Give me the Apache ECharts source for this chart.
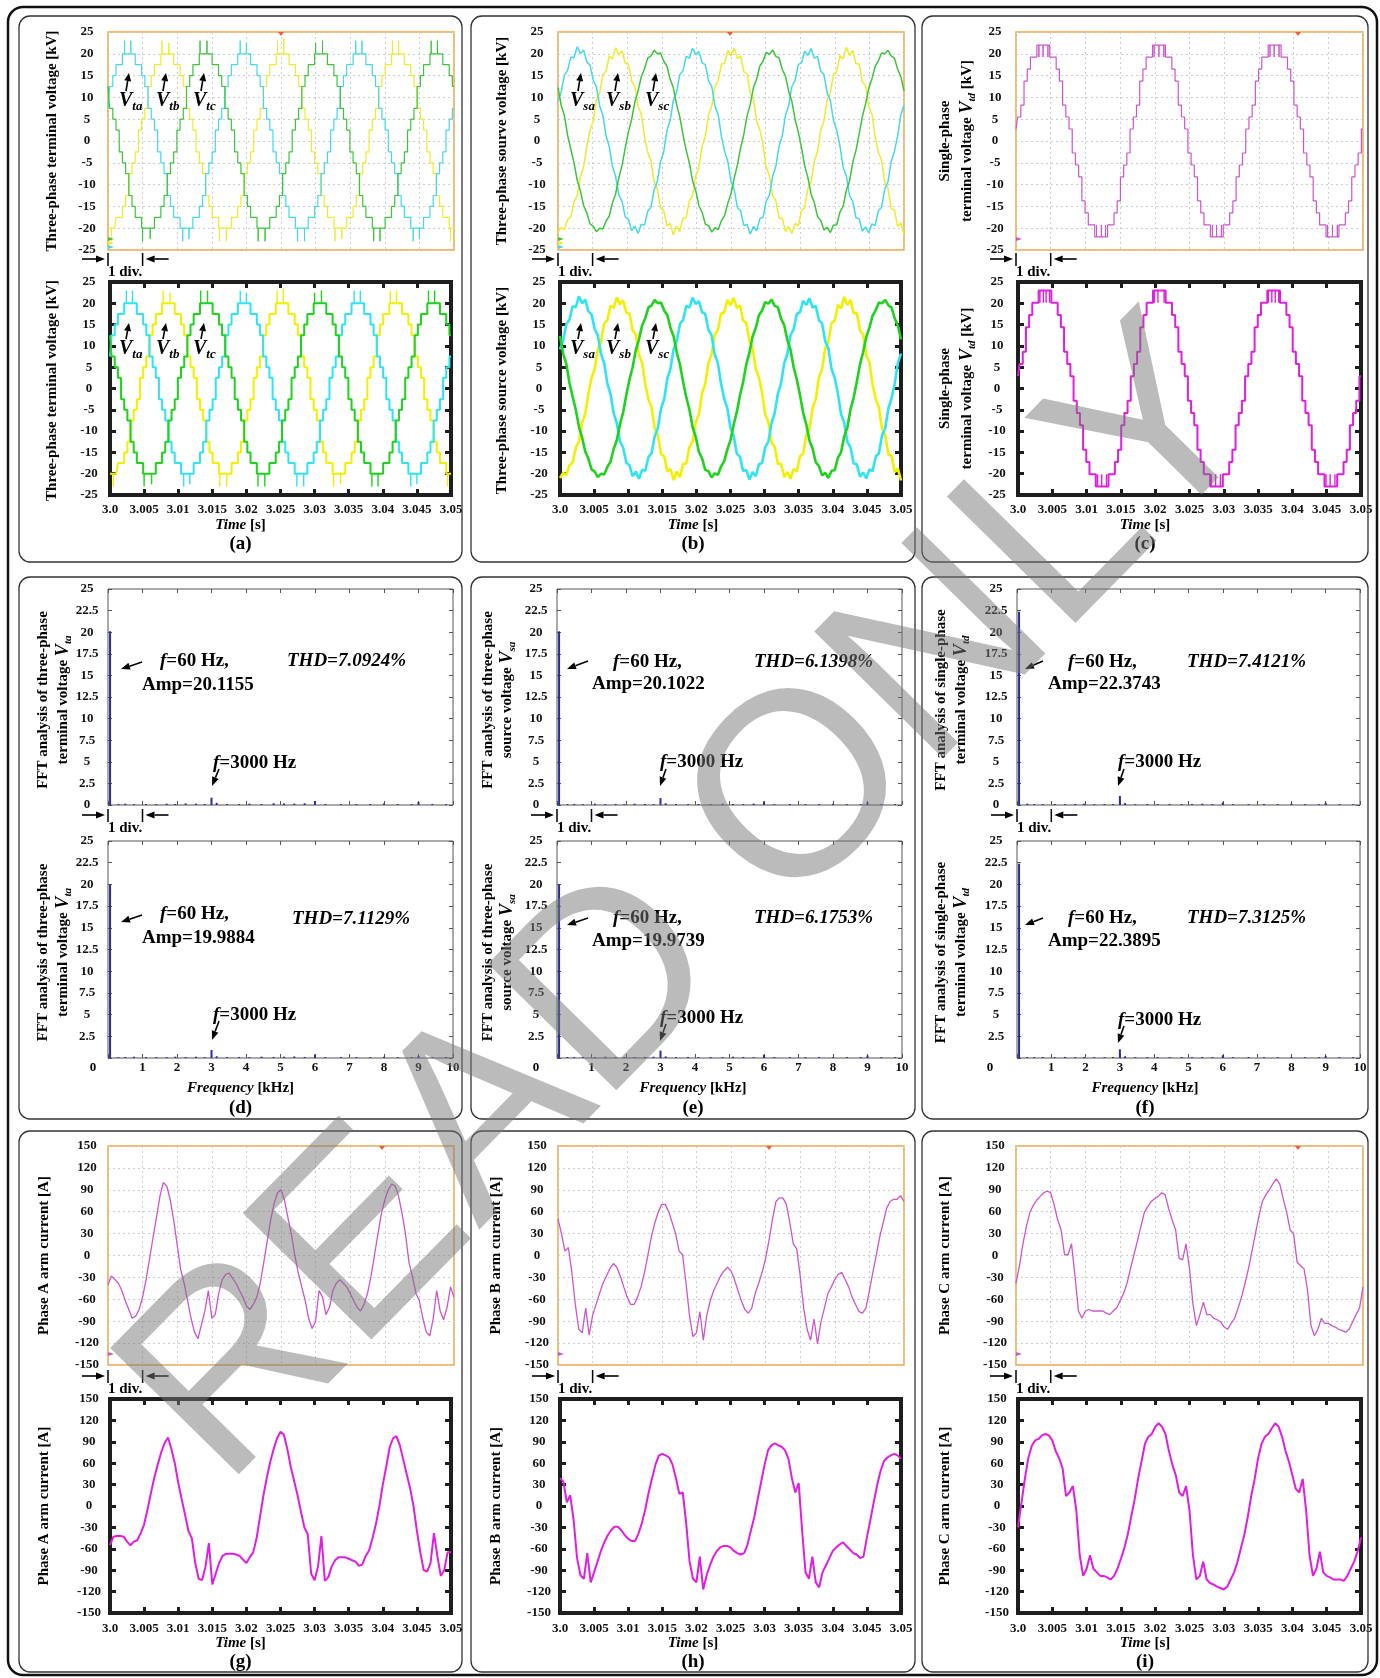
<!DOCTYPE html>
<html lang="en">
<head>
<meta charset="UTF-8">
<title>MMC terminal voltage, FFT and arm current</title>
<script src="https://cdn.jsdelivr.net/npm/echarts@6.0.0/dist/echarts.min.js"></script>
<style>
  * { margin: 0; padding: 0; box-sizing: border-box; }
  body { background: #fff; width: 1380px; height: 1678px; overflow: hidden; }
  #main { width: 1380px; height: 1678px; }
</style>
</head>
<body>
<div id="main"></div>
<script>
// ---- (a) three-phase terminal voltage [kV], one sample every 10 electrical degrees
const vta = [7.5,12.5,15,17.5,17.5,20,20,20,20,17.5,17.5,15,12.5,7.5,5,2.5,-2.5,-5,-7.5,-12.5,-15,-17.5,-17.5,-20,-20,-20,-20,-17.5,-17.5,-15,-12.5,-7.5,-5,-2.5,
  2.5,5,7.5,12.5,15,17.5,17.5,20,20,20,20,17.5,17.5,15,12.5,7.5,5,2.5,-2.5,-5,-7.5,-12.5,-15,-17.5,-17.5,-20,-20,-20,-20,-17.5,-17.5,-15,-12.5,-7.5,-5,-2.5,
  2.5,5,7.5,12.5,15,17.5,17.5,20,20,20,20,17.5,17.5,15,12.5,7.5,5,2.5,-2.5,-5,-7.5,-12.5,-15,-17.5,-17.5,-20,-20,-20,-20,-17.5,-17.5,-15,-12.5,-7.5,-5,-2.5,
  2.5,5,7.5];
const vtb = [-20,-20,-20,-17.5,-17.5,-15,-12.5,-7.5,-5,-2.5,
  2.5,5,7.5,12.5,15,17.5,17.5,20,20,20,20,17.5,17.5,15,12.5,7.5,5,2.5,-2.5,-5,-7.5,-12.5,-15,-17.5,-17.5,-20,-20,-20,-20,-17.5,-17.5,-15,-12.5,-7.5,-5,-2.5,
  2.5,5,7.5,12.5,15,17.5,17.5,20,20,20,20,17.5,17.5,15,12.5,7.5,5,2.5,-2.5,-5,-7.5,-12.5,-15,-17.5,-17.5,-20,-20,-20,-20,-17.5,-17.5,-15,-12.5,-7.5,-5,-2.5,
  2.5,5,7.5,12.5,15,17.5,17.5,20,20,20,20,17.5,17.5,15,12.5,7.5,5,2.5,-2.5,-5,-7.5,-12.5,-15,-17.5,-17.5,-20,-20];
const vtc = [12.5,7.5,5,2.5,-2.5,-5,-7.5,-12.5,-15,-17.5,-17.5,-20,-20,-20,-20,-17.5,-17.5,-15,-12.5,-7.5,-5,-2.5,
  2.5,5,7.5,12.5,15,17.5,17.5,20,20,20,20,17.5,17.5,15,12.5,7.5,5,2.5,-2.5,-5,-7.5,-12.5,-15,-17.5,-17.5,-20,-20,-20,-20,-17.5,-17.5,-15,-12.5,-7.5,-5,-2.5,
  2.5,5,7.5,12.5,15,17.5,17.5,20,20,20,20,17.5,17.5,15,12.5,7.5,5,2.5,-2.5,-5,-7.5,-12.5,-15,-17.5,-17.5,-20,-20,-20,-20,-17.5,-17.5,-15,-12.5,-7.5,-5,-2.5,
  2.5,5,7.5,12.5,15,17.5,17.5,20,20,20,20,17.5,17.5,15,12.5];
// switching spikes on the peak levels: [time ms, level kV, tip kV]
const vtaSpikes = [[2.4,20,23],[3.3,20,23],[19.1,20,23],[20.0,20,22.5],[35.8,20,23],[36.7,20,23],
  [10.8,-20,-23],[11.7,-20,-22.5],[27.4,-20,-23],[28.4,-20,-23],[44.1,-20,-23],[45.0,-20,-22.5]];
const vtbSpikes = [[7.8,20,23],[8.8,20,22.5],[24.5,20,23],[25.4,20,23.5],[41.1,20,23],[42.0,20,23],
  [0.5,-20,-23],[16.1,-20,-23],[17.1,-20,-23],[32.8,-20,-23],[33.8,-20,-22.5],[49.5,-20,-23]];
const vtcSpikes = [[13.3,20,23],[14.3,20,23],[30.0,20,22.5],[31.0,20,23],[46.7,20,23],[47.6,20,23],
  [5.0,-20,-23],[6.1,-20,-22.5],[21.7,-20,-23],[22.7,-20,-23],[38.4,-20,-23],[39.3,-20,-23]];

// ---- (b) three-phase source voltage [kV]
const vsa = [9.2,11.3,15.1,16.2,19.3,19.1,21.6,20.0,20.9,18.1,17.4,13.9,12.4,8.1,5.9,1.2,-1.3,-5.8,-8.2,-12.4,-13.9,-17.4,-18.0,-20.6,-19.5,-21.2,-19.1,-19.3,-16.1,-15.2,-11.2,-9.3,-4.7,-2.5,
  2.4,4.7,9.3,11.1,15.2,16.1,19.4,19.0,21.3,19.8,20.5,17.9,17.5,13.8,12.5,8.0,6.0,1.1,-2.4,-4.6,-9.3,-11.1,-15.3,-16.0,-19.4,-19.1,-21.4,-19.6,-20.6,-17.8,-17.5,-13.8,-12.4,-8.1,-5.8,-1.2,
  1.2,5.9,8.1,12.5,13.9,17.5,17.9,20.6,19.6,21.2,19.0,19.4,16.0,15.3,11.1,9.4,4.6,2.5,-1.1,-6.0,-8.0,-12.5,-13.8,-17.6,-17.8,-20.7,-19.7,-21.1,-19.0,-19.4,-16.0,-15.2,-11.0,-9.4,-4.7,-2.4,
  1.1,6.0,8.2];
const vsb = [-21.0,-19.8,-20.3,-18.0,-17.4,-13.9,-12.5,-8.1,-5.9,-1.2,
  2.5,4.6,9.4,11.0,15.3,16.0,19.5,18.9,21.4,19.7,20.7,17.8,17.6,13.7,12.6,7.9,6.1,1.0,-2.5,-4.5,-9.4,-11.0,-15.4,-15.9,-19.5,-18.9,-21.5,-19.5,-20.8,-17.7,-17.6,-13.7,-12.5,-8.0,-5.9,-1.1,
  1.1,6.0,8.0,12.6,13.8,17.6,17.8,20.8,19.5,21.3,18.9,19.5,15.9,15.4,11.0,9.5,4.5,2.6,-1.0,-6.1,-7.9,-12.6,-13.7,-17.7,-17.7,-20.8,-19.6,-21.2,-18.9,-19.5,-15.9,-15.3,-10.9,-9.5,-4.6,-2.5,
  2.6,4.5,9.5,10.9,15.4,15.9,19.6,18.8,21.5,19.6,20.8,17.7,17.7,13.6,12.7,7.8,6.2,0.9,-2.6,-4.4,-9.5,-10.9,-15.5,-15.8,-19.6,-18.8,-21.6];
const vsc = [12.3,8.2,5.8,1.3,-1.9,-5.0,-9.0,-11.5,-14.8,-16.5,-19.0,-19.5,-20.8,-20.0,-20.2,-18.4,-17.2,-14.2,-12.1,-8.4,-5.6,-1.5,
  2.1,5.0,9.0,11.5,14.8,16.5,19.0,19.5,20.8,20.0,20.2,18.3,17.2,14.2,12.2,8.4,5.6,1.5,-2.1,-5.0,-9.1,-11.4,-14.9,-16.4,-19.1,-19.4,-20.9,-19.9,-20.3,-18.3,-17.1,-14.3,-12.1,-8.5,-5.5,-1.6,
  1.5,5.7,8.4,12.2,14.2,17.2,18.3,20.3,19.9,20.9,19.4,19.1,16.4,14.9,11.4,9.1,5.0,2.1,-1.5,-5.7,-8.4,-12.2,-14.1,-17.3,-18.2,-20.4,-19.8,-21.0,-19.3,-19.2,-16.3,-15.0,-11.3,-9.2,-4.9,-2.2,
  1.6,5.6,8.5,12.1,14.3,17.1,18.4,20.2,20.0,20.8,19.5,19.0,16.5,14.8,11.5];

// ---- (c) single-phase terminal voltage [kV]
const vtdScope = [2.75,5.5,8.25,13.75,16.5,19.25,19.25,22,22,22,22,19.25,19.25,16.5,13.75,8.25,5.5,2.75,-2.75,-5.5,-8.25,-13.75,-16.5,-19.25,-19.25,-22,-22,-22,-22,-19.25,-19.25,-16.5,-13.75,-8.25,-5.5,-2.75,
  2.75,5.5,8.25,13.75,16.5,19.25,19.25,22,22,22,22,19.25,19.25,16.5,13.75,8.25,5.5,2.75,-2.75,-5.5,-8.25,-13.75,-16.5,-19.25,-19.25,-22,-22,-22,-22,-19.25,-19.25,-16.5,-13.75,-8.25,-5.5,-2.75,
  2.75,5.5,8.25,13.75,16.5,19.25,19.25,22,22,22,22,19.25,19.25,16.5,13.75,8.25,5.5,2.75,-2.75,-5.5,-8.25,-13.75,-16.5,-19.25,-19.25,-22,-22,-22,-22,-19.25,-19.25,-16.5,-13.75,-8.25,-5.5,-2.75,
  2.75];
const vtdSim = [2.9,5.75,8.6,14.4,17.25,20.1,20.1,23,23,23,23,20.1,20.1,17.25,14.4,8.6,5.75,2.9,-2.9,-5.75,-8.6,-14.4,-17.25,-20.1,-20.1,-23,-23,-23,-23,-20.1,-20.1,-17.25,-14.4,-8.6,-5.75,-2.9,
  2.9,5.75,8.6,14.4,17.25,20.1,20.1,23,23,23,23,20.1,20.1,17.25,14.4,8.6,5.75,2.9,-2.9,-5.75,-8.6,-14.4,-17.25,-20.1,-20.1,-23,-23,-23,-23,-20.1,-20.1,-17.25,-14.4,-8.6,-5.75,-2.9,
  2.9,5.75,8.6,14.4,17.25,20.1,20.1,23,23,23,23,20.1,20.1,17.25,14.4,8.6,5.75,2.9,-2.9,-5.75,-8.6,-14.4,-17.25,-20.1,-20.1,-23,-23,-23,-23,-20.1,-20.1,-17.25,-14.4,-8.6,-5.75,-2.9,
  2.9];
const vtdScopeSpikes = [[3.3,22,19.25],[3.9,22,19.25],[4.6,22,19.25],[19.9,22,19.25],[20.6,22,19.25],[21.3,22,19.25],
  [36.6,22,19.25],[37.2,22,19.25],[37.9,22,19.25],[11.6,-22,-19.25],[12.3,-22,-19.25],[12.9,-22,-19.25],
  [28.3,-22,-19.25],[28.9,-22,-19.25],[29.6,-22,-19.25],[44.9,-22,-19.25],[45.6,-22,-19.25],[46.3,-22,-19.25]];
const vtdSimSpikes = [[3.2,23,20.1],[3.7,23,20.1],[4.1,23,20.1],[4.6,23,20.1],[19.9,23,20.1],[20.4,23,20.1],[21.3,23,20.1],
  [36.5,23,20.1],[37.0,23,20.1],[37.5,23,20.1],[38.0,23,20.1],[11.6,-23,-20.1],[12.2,-23,-20.1],[12.9,-23,-20.1],
  [28.2,-23,-20.1],[28.8,-23,-20.1],[29.5,-23,-20.1],[44.9,-23,-20.1],[45.5,-23,-20.1],[46.2,-23,-20.1]];

// ---- (d)(e)(f) spectrum lines [kHz] and amplitudes [kV]
const fftFreq = [0.06,0.3,0.5,0.75,1.1,1.4,1.7,1.95,2.25,2.55,2.8,3.0,3.15,3.45,3.8,4.1,4.45,4.8,5.1,5.4,5.7,6.0,6.3,6.75,7.2,7.6,8.0,8.4,8.8,9.0,9.4,9.8];
const fftTaScope = [20.1155,0.12,0.15,0.10,0.12,0.10,0.15,0.12,0.18,0.15,0.12,0.85,0.25,0.12,0.10,0.15,0.12,0.20,0.18,0.15,0.20,0.45,0.12,0.10,0.10,0.12,0.18,0.10,0.10,0.35,0.12,0.10];
const fftTaSim = [19.9884,0.10,0.12,0.15,0.10,0.12,0.10,0.15,0.12,0.15,0.10,0.92,0.20,0.10,0.12,0.10,0.15,0.12,0.15,0.18,0.12,0.40,0.10,0.12,0.10,0.10,0.15,0.10,0.10,0.25,0.10,0.12];
const fftSaScope = [20.1022,0.10,0.12,0.10,0.15,0.10,0.12,0.10,0.15,0.12,0.10,0.80,0.20,0.12,0.10,0.12,0.10,0.15,0.12,0.10,0.15,0.40,0.10,0.12,0.10,0.10,0.12,0.10,0.10,0.30,0.10,0.10];
const fftSaSim = [19.9739,0.12,0.10,0.12,0.10,0.15,0.10,0.12,0.10,0.12,0.15,0.85,0.18,0.10,0.12,0.10,0.12,0.10,0.15,0.12,0.10,0.38,0.12,0.10,0.10,0.12,0.10,0.10,0.12,0.28,0.10,0.10];
const fftTdScope = [22.3743,0.15,0.12,0.10,0.12,0.10,0.12,0.15,0.10,0.12,0.10,1.05,0.22,0.10,0.12,0.10,0.12,0.10,0.12,0.15,0.10,0.30,0.10,0.10,0.12,0.10,0.15,0.10,0.10,0.25,0.10,0.10];
const fftTdSim = [22.3895,0.12,0.10,0.12,0.10,0.12,0.10,0.12,0.10,0.10,0.12,1.00,0.20,0.10,0.10,0.12,0.10,0.12,0.10,0.12,0.10,0.32,0.10,0.12,0.10,0.10,0.12,0.10,0.10,0.22,0.10,0.10];
const thdText = ['7.0924%', '7.1129%', '6.1398%', '6.1753%', '7.4121%', '7.3125%'];

// ---- (g)(h)(i) arm currents [A], one sample every 0.5 ms
const iaScope = [-40,-28,-33,-38,-48,-62,-74,-86,-83,-74, -57,-33,-5,24,52,81,100,95,76,48, 14,-19,-38,-62,-86,-105,-114,-95,-76,-48,
  -86,-81,-52,-33,-26,-24,-31,-38,-48,-57, -69,-74,-67,-57,-38,-10,19,48,71,86, 90,76,52,29,0,-24,-43,-62,-86,-100,
  -90,-48,-57,-81,-71,-48,-38,-33,-38,-43, -52,-62,-71,-76,-67,-52,-29,0,29,57, 76,90,98,95,81,57,29,-10,-29,-52,
  -62,-86,-105,-110,-86,-48,-76,-88,-71,-43, -57];
const iaSim = [-55,-43,-42,-42,-43,-50,-55,-50,-48,-38, -26,-5,18,40,58,75,88,96,80,60, 33,10,-12,-35,-45,-80,-102,-104,-85,-52,
  -110,-95,-80,-70,-67,-67,-67,-68,-70,-75, -80,-72,-65,-45,-15,15,40,62,80,95, 104,100,80,55,35,15,-8,-30,-40,-95,
  -104,-85,-42,-105,-100,-85,-76,-72,-72,-72, -74,-76,-78,-84,-82,-70,-62,-45,-25,0, 30,55,82,95,98,85,65,45,25,0,
  -35,-65,-90,-92,-80,-38,-70,-98,-90,-65, -65];
const ibScope = [50,30,6,11,-23,-67,-101,-106,-72,-109, -82,-67,-52,-38,-28,-18,-11,-16,-28,-43, -57,-67,-67,-57,-43,-23,1,26,45,60,
  70,70,60,45,30,6,1,-38,-82,-111, -106,-77,-116,-82,-62,-48,-38,-28,-21,-16, -21,-33,-48,-62,-74,-79,-72,-52,-38,-23,
  -4,21,50,74,79,79,70,45,16,9, -28,-72,-101,-116,-87,-121,-91,-72,-52,-43, -33,-26,-23,-33,-43,-57,-67,-77,-79,-72,
  -48,-23,1,26,45,65,74,77,77,82, 74];
const ibSim = [39,34,5,15,-20,-73,-97,-102,-66,-107, -93,-78,-63,-51,-41,-34,-29,-29,-34,-41, -46,-49,-49,-39,-24,-5,19,39,58,71,
  73,71,68,58,39,17,19,-24,-78,-102, -107,-71,-117,-97,-83,-71,-63,-58,-56,-56, -58,-63,-66,-68,-66,-54,-34,-15,10,34,
  58,78,85,88,85,83,78,66,39,19, 32,-34,-93,-102,-71,-107,-114,-93,-83,-73, -63,-58,-54,-51,-56,-61,-66,-68,-73,-71,
  -44,-20,5,29,49,63,68,71,73,71, 66];
const icScope = [-38,-14,16,40,59,69,76,81,86,88, 86,69,49,35,1,1,16,-28,-76,-86, -76,-74,-76,-76,-76,-76,-79,-81,-76,-72,
  -62,-52,-38,-18,1,20,40,59,67,74, 78,81,86,83,64,49,35,-4,-6,16, -18,-67,-96,-81,-64,-81,-81,-86,-88,-91,
  -98,-101,-93,-86,-72,-57,-38,-18,6,30, 54,74,83,90,98,105,98,78,59,35, 30,-9,-14,-18,-47,-96,-110,-101,-86,-93,
  -93,-96,-98,-101,-103,-105,-101,-91,-81,-72, -43];
const icSim = [-30,4,38,67,84,92,94,99,101,99, 92,77,67,53,14,19,28,-6,-69,-98, -88,-69,-88,-93,-98,-98,-100,-103,-98,-88,
  -74,-59,-40,-15,9,38,62,87,97,101, 111,116,111,101,77,58,43,19,14,28, -6,-69,-103,-98,-78,-103,-108,-110,-113,-115,
  -117,-113,-103,-93,-78,-59,-40,-15,14,38, 67,87,97,101,109,116,111,97,77,62, 43,24,19,38,-6,-69,-98,-88,-64,-93,
  -98,-100,-103,-103,-103,-105,-98,-88,-78,-64, -44];

// axis ranges [min, max, interval]
const timeRange = [3.0, 3.05, 0.005];
const freqRange = [0, 10, 1];
const voltRange = [-25, 25, 5];
const fftRange = [0, 25, 2.5];
const currRange = [-150, 150, 30];

const voltStep = 1 / 2160;   // 10 electrical degrees at 60 Hz
const currStep = 0.0005;

const serif = '"Liberation Serif", "Times New Roman", serif';
const chart = echarts.init(document.getElementById('main'));
const grids = [], xAxes = [], yAxes = [], series = [], graphics = [];

const fmtTime = v => { const s = String(+v.toFixed(3)); return s === '3' ? '3.0' : s; };
const spikeData = trip => {
  const d = [];
  trip.forEach(([t, a, b]) => { const x = 3 + t / 1000; d.push([x, a], [x, b], [x, a], [x, '-']); });
  return d;
};

function addPlot(p) {
  const gi = grids.length;
  const [l, r] = p.x, [t, b] = p.y;
  const frame = { scope: ['#f2a43a', 1.5], sim: ['#1e1e1e', 4], fft: ['#555', 1] }[p.kind];
  grids.push({ left: l, top: t, width: r - l, height: b - t, show: true, backgroundColor: '#fff',
    borderColor: frame[0], borderWidth: frame[1] });
  const tick = p.kind === 'sim' ? { show: true, inside: true, length: 6, lineStyle: { color: '#1e1e1e', width: 3 } }
    : p.kind === 'fft' ? { show: true, inside: true, length: 4, lineStyle: { color: '#555', width: 1 } }
    : { show: false };
  const split = p.kind === 'scope' ? { show: true, lineStyle: { color: '#cdcdcd', width: 1, type: [2, 3] } } : { show: false };
  const lbl = { color: '#111', fontFamily: serif, fontWeight: 'bold', fontSize: 13, showMinLabel: true, showMaxLabel: true };
  [['bottom', true], ['top', false]].forEach(([pos, main]) => xAxes.push({
    type: 'value', gridIndex: gi, position: pos, min: p.xr[0], max: p.xr[1], interval: p.xr[2],
    axisLine: { show: false, onZero: false }, axisTick: tick, splitLine: main ? split : { show: false },
    axisLabel: Object.assign({ show: main && !!p.xFmt, formatter: p.xFmt, margin: p.xMargin || 8 }, lbl)
  }));
  [['left', true], ['right', false]].forEach(([pos, main]) => yAxes.push({
    type: 'value', gridIndex: gi, position: pos, min: p.yr[0], max: p.yr[1], interval: p.yr[2],
    axisLine: { show: false, onZero: false }, axisTick: tick, splitLine: main ? split : { show: false },
    axisLabel: Object.assign({ show: main, formatter: p.yFmt, margin: 21, align: 'center' }, lbl)
  }));
  const xi = xAxes.length - 2, yi = yAxes.length - 2;
  (p.lines || []).forEach(s => {
    series.push({
      type: 'line', xAxisIndex: xi, yAxisIndex: yi, symbol: 'none', silent: true, z: 3,
      step: s.step ? 'middle' : false,
      data: s.data.map((v, i) => [3 + i * s.dt, v]),
      lineStyle: { color: s.color, width: s.w, opacity: s.op || 1 }
    });
    if (s.spikes) series.push({
      type: 'line', xAxisIndex: xi, yAxisIndex: yi, symbol: 'none', silent: true, z: 3, connectNulls: false,
      data: spikeData(s.spikes), lineStyle: { color: s.color, width: Math.max(1, s.w * 0.7), opacity: s.op || 1 }
    });
  });
  if (p.amp) series.push({
    type: 'bar', xAxisIndex: xi, yAxisIndex: yi, silent: true, barWidth: 2,
    data: fftFreq.map((f, i) => [f, p.amp[i]]), itemStyle: { color: '#2b2ba8' }
  });
}

function text(x, y, str, font, o = {}) {
  graphics.push({ type: 'text', x, y, rotation: o.rot || 0, z: 50, silent: true,
    style: { text: str, font, fill: '#000', rich: o.rich,
      textAlign: o.align || 'left', align: o.align || 'left',
      textVerticalAlign: 'middle', verticalAlign: 'middle' } });
}
function arrow(x1, y1, x2, y2, head = 8, w = 6, color = '#000') {
  const dx = x2 - x1, dy = y2 - y1, len = Math.hypot(dx, dy), ux = dx / len, uy = dy / len;
  const bx = x2 - ux * head, by = y2 - uy * head;
  graphics.push({ type: 'line', z: 50, silent: true, shape: { x1, y1, x2: bx, y2: by }, style: { stroke: color, lineWidth: 1.6 } });
  graphics.push({ type: 'polygon', z: 50, silent: true,
    shape: { points: [[x2, y2], [bx - uy * w / 2, by + ux * w / 2], [bx + uy * w / 2, by - ux * w / 2]] },
    style: { fill: color } });
}
function divMarker(l, div, y) {
  arrow(l - 26, y, l - 3, y, 9, 7);
  arrow(l + div + 26, y, l + div + 3, y, 9, 7);
  graphics.push({ type: 'line', z: 50, silent: true, shape: { x1: l, y1: y - 6, x2: l, y2: y + 7 }, style: { stroke: '#000', lineWidth: 1.5 } });
  graphics.push({ type: 'line', z: 50, silent: true, shape: { x1: l + div, y1: y - 6, x2: l + div, y2: y + 7 }, style: { stroke: '#000', lineWidth: 1.5 } });
  text(l, y + 13, '1 div.', 'bold 15px ' + serif);
}
// small oscilloscope markers: trigger tick on top edge, channel markers at the lower-left corner
function scopeMarks(x, y, trigX, chans) {
  graphics.push({ type: 'polygon', z: 40, silent: true,
    shape: { points: [[trigX - 3, y[0]], [trigX + 3, y[0]], [trigX, y[0] + 4]] }, style: { fill: '#f05a3a' } });
  chans.forEach((c, k) => graphics.push({ type: 'polygon', z: 40, silent: true,
    shape: { points: [[x[0], y[1] - 13 + k * 4], [x[0] + 6, y[1] - 11 + k * 4], [x[0], y[1] - 9 + k * 4]] }, style: { fill: c } }));
}

const titleFont = 'bold 15px ' + serif;
const subRich = {
  v: { fontFamily: serif, fontStyle: 'italic', fontWeight: 'bold', fontSize: 18, lineHeight: 22 },
  s: { fontFamily: serif, fontStyle: 'italic', fontWeight: 'bold', fontSize: 11, verticalAlign: 'bottom', lineHeight: 22 }
};
const vRich = {
  v: { fontFamily: serif, fontStyle: 'italic', fontWeight: 'bold', fontSize: 20, lineHeight: 24 },
  s: { fontFamily: serif, fontStyle: 'italic', fontWeight: 'bold', fontSize: 13, verticalAlign: 'bottom', lineHeight: 24 }
};
const fRich = { i: { fontFamily: serif, fontStyle: 'italic', fontWeight: 'bold', fontSize: 19 } };
const vtitle = (x, y, str) => text(x, y, str, titleFont, { rot: Math.PI / 2, align: 'center', rich: subRich });

const cols = [
  { box: [19, 462], scope: [108, 454], sim: [110, 451], fft: [108, 453] },
  { box: [471, 915], scope: [558, 904], sim: [560, 901], fft: [557, 902] },
  { box: [922, 1368], scope: [1016, 1363], sim: [1018, 1361], fft: [1017, 1360] }
];
const rows = [
  { box: [16, 562], top: [32, 250], bot: [282, 495], div: 259, cap: [525, 544], xMargin: 8 },
  { box: [577, 1119], top: [589, 805], bot: [841, 1058], div: 815, cap: [1088, 1108], xMargin: 3 },
  { box: [1131, 1672], top: [1146, 1365], bot: [1399, 1613], div: 1376, cap: [1643, 1662], xMargin: 9 }
];

const scopeCol = { cyan: '#45d8e6', yellow: '#ecec2c', green: '#3cc43c', mag: '#cc55cc' };
const simCol = { cyan: '#2ee4f4', yellow: '#f0f000', green: '#1ed21e', mag: '#e01ee0' };

// ---------- row 1: voltages
const threePhase = [
  { col: 0, sets: [vtb, vta, vtc], spikes: [vtbSpikes, vtaSpikes, vtcSpikes], step: true, sub: ['ta', 'tb', 'tc'],
    titles: ['Three-phase terminal voltage [kV]', 'Three-phase terminal voltage [kV]'], tx: 52,
    ax: [128, 165, 203], lx: [119, 156, 193], trig: 281 },
  { col: 1, sets: [vsb, vsa, vsc], spikes: [null, null, null], step: false, sub: ['sa', 'sb', 'sc'],
    titles: ['Three-phase sourve voltage [kV]', 'Three-phase source voltage [kV]'], tx: 502,
    ax: [580, 617, 655], lx: [570, 606, 645], trig: 730 }
];
threePhase.forEach(pn => {
  const c = cols[pn.col], r = rows[0];
  const pals = ['yellow', 'cyan', 'green'];
  const mk = (pal, w) => pn.sets.map((d, k) => ({ data: d, dt: voltStep, step: pn.step, color: pal[pals[k]], w, spikes: pn.spikes[k] }));
  addPlot({ kind: 'scope', x: c.scope, y: r.top, xr: timeRange, yr: voltRange, lines: mk(scopeCol, pn.step ? 1.2 : 1.5) });
  addPlot({ kind: 'sim', x: c.sim, y: r.bot, xr: timeRange, yr: voltRange, xFmt: fmtTime, xMargin: r.xMargin,
    lines: mk(simCol, pn.step ? 2 : 2.6) });
  scopeMarks(c.scope, r.top, pn.trig, [scopeCol.green, scopeCol.yellow, scopeCol.cyan]);
  vtitle(pn.tx, (r.top[0] + r.top[1]) / 2, pn.titles[0]);
  vtitle(pn.tx, (r.bot[0] + r.bot[1]) / 2 + 2, pn.titles[1]);
  [[73, 91, 101], [323, 339, 349]].forEach(([tip, base, ly]) => {
    pn.ax.forEach((x, k) => {
      arrow(x - 2, base, x + 1, tip, 8, 7);
      text(pn.lx[k], ly, '{v|V}{s|' + pn.sub[k] + '}', titleFont, { rich: vRich });
    });
  });
});
{
  const c = cols[2], r = rows[0];
  addPlot({ kind: 'scope', x: c.scope, y: r.top, xr: timeRange, yr: voltRange,
    lines: [{ data: vtdScope, dt: voltStep, step: true, color: scopeCol.mag, w: 1.2, spikes: vtdScopeSpikes }] });
  addPlot({ kind: 'sim', x: c.sim, y: r.bot, xr: timeRange, yr: voltRange, xFmt: fmtTime, xMargin: r.xMargin,
    lines: [{ data: vtdSim, dt: voltStep, step: true, color: simCol.mag, w: 2, spikes: vtdSimSpikes }] });
  scopeMarks(c.scope, r.top, 1298, [scopeCol.mag]);
  [r.top, r.bot].forEach(yy => {
    const cy = (yy[0] + yy[1]) / 2;
    vtitle(945, cy, 'Single-phase');
    vtitle(967, cy, 'terminal voltage {v|V}{s|td} [kV]');
  });
}

// ---------- row 2: spectra
const fftPanels = [
  { col: 0, amp: [fftTaScope, fftTaSim], thd: [0, 1], t1: 'FFT analysis of three-phase', t2: 'terminal voltage {v|V}{s|ta}', tx: [43, 63],
    f60: [[160, 661], [160, 914]], amp0: [[142, 685], [142, 938]], thdPos: [[287, 661], [292, 919]],
    f3k: [[213, 763], [213, 1015]], a60: [[142, 662, 121, 669], [142, 915, 121, 922]], a3k: [[219, 769, 212, 786], [219, 1021, 212, 1040]], zero: 93 },
  { col: 1, amp: [fftSaScope, fftSaSim], thd: [2, 3], t1: 'FFT analysis of three-phase', t2: 'source voltage {v|V}{s|sa}', tx: [488, 507],
    f60: [[613, 662], [613, 918]], amp0: [[592, 684], [592, 941]], thdPos: [[754, 662], [754, 918]],
    f3k: [[660, 762], [660, 1018]], a60: [[588, 661, 567, 669], [588, 918, 567, 925]], a3k: [[666, 769, 660, 786], [666, 1024, 660, 1041]], zero: 536 },
  { col: 2, amp: [fftTdScope, fftTdSim], thd: [4, 5], t1: 'FFT analysis of single-phase', t2: 'terminal voltage {v|V}{s|td}', tx: [941, 961],
    f60: [[1068, 662], [1068, 918]], amp0: [[1048, 684], [1048, 941]], thdPos: [[1187, 662], [1187, 918]],
    f3k: [[1118, 762], [1118, 1020]], a60: [[1043, 661, 1025, 669], [1043, 918, 1025, 925]], a3k: [[1124, 769, 1118, 786], [1124, 1026, 1118, 1043]], zero: 990 }
];
const annFont = 'bold 19px ' + serif;
fftPanels.forEach(pn => {
  const c = cols[pn.col], r = rows[1];
  addPlot({ kind: 'fft', x: c.fft, y: r.top, xr: freqRange, yr: fftRange, amp: pn.amp[0] });
  addPlot({ kind: 'fft', x: c.fft, y: r.bot, xr: freqRange, yr: fftRange, amp: pn.amp[1],
    xFmt: v => (v === 0 ? '' : String(v)), xMargin: r.xMargin, yFmt: v => (v === 0 ? '' : String(v)) });
  text(pn.zero, 1068, '0', 'bold 13px ' + serif, { align: 'center' });
  [r.top, r.bot].forEach((yy, k) => {
    const cy = (yy[0] + yy[1]) / 2 + 3;
    vtitle(pn.tx[0], cy, pn.t1);
    vtitle(pn.tx[1], cy, pn.t2);
    text(pn.f60[k][0], pn.f60[k][1], '{i|f}=60 Hz,', annFont, { rich: fRich });
    text(pn.amp0[k][0], pn.amp0[k][1], 'Amp=' + pn.amp[k][0].toFixed(4), annFont);
    text(pn.thdPos[k][0], pn.thdPos[k][1], 'THD=' + thdText[pn.thd[k]], 'italic bold 19px ' + serif);
    text(pn.f3k[k][0], pn.f3k[k][1], '{i|f}=3000 Hz', annFont, { rich: fRich });
    arrow(...pn.a60[k], 9, 7);
    arrow(...pn.a3k[k], 9, 7);
  });
});

// ---------- row 3: arm currents
const currPanels = [
  { col: 0, data: [iaScope, iaSim], title: 'Phase A arm current [A]', tx: 44, trig: 382 },
  { col: 1, data: [ibScope, ibSim], title: 'Phase B arm current [A]', tx: 496, trig: 769 },
  { col: 2, data: [icScope, icSim], title: 'Phase C arm current [A]', tx: 945, trig: 1298 }
];
currPanels.forEach(pn => {
  const c = cols[pn.col], r = rows[2];
  addPlot({ kind: 'scope', x: c.scope, y: r.top, xr: timeRange, yr: currRange,
    lines: [{ data: pn.data[0], dt: currStep, color: scopeCol.mag, w: 1.3 }] });
  addPlot({ kind: 'sim', x: c.sim, y: r.bot, xr: timeRange, yr: currRange, xFmt: fmtTime, xMargin: r.xMargin,
    lines: [{ data: pn.data[1], dt: currStep, color: simCol.mag, w: 2 }] });
  scopeMarks(c.scope, r.top, pn.trig, [scopeCol.mag]);
  vtitle(pn.tx, (r.top[0] + r.top[1]) / 2, pn.title);
  vtitle(pn.tx, (r.bot[0] + r.bot[1]) / 2, pn.title);
});

// ---------- frames, captions, 1-div markers
const letters = [['a', 'b', 'c'], ['d', 'e', 'f'], ['g', 'h', 'i']];
rows.forEach((r, ri) => cols.forEach((c, ci) => {
  graphics.push({ type: 'rect', z: 1, silent: true,
    shape: { x: c.box[0], y: r.box[0], width: c.box[1] - c.box[0], height: r.box[1] - r.box[0], r: 11 },
    style: { fill: 'none', stroke: '#333', lineWidth: 1.3 } });
  const cx = (c.box[0] + c.box[1]) / 2;
  text(cx, r.cap[0], ri === 1 ? '{i|Frequency} [kHz]' : '{i|Time} [s]', 'bold 15px ' + serif,
    { align: 'center', rich: { i: { fontFamily: serif, fontStyle: 'italic', fontWeight: 'bold', fontSize: 15 } } });
  text(cx, r.cap[1], '(' + letters[ri][ci] + ')', 'bold 19px ' + serif, { align: 'center' });
  const xr = ri === 1 ? c.fft : c.scope;
  divMarker(xr[0], (xr[1] - xr[0]) / 10, r.div);
}));
graphics.push({ type: 'rect', z: 1, silent: true, shape: { x: 8, y: 7, width: 1369, height: 1668, r: 15 },
  style: { fill: 'none', stroke: '#111', lineWidth: 2.5 } });

// watermark across the whole figure
graphics.push({ type: 'text', x: 696, y: 906, rotation: 45.5 * Math.PI / 180, z: 100, silent: true,
  style: { text: 'READ ONLY', font: '262px "Liberation Sans", Arial, sans-serif', fill: 'rgba(120,120,120,0.5)',
    textAlign: 'center', align: 'center', textVerticalAlign: 'middle', verticalAlign: 'middle' } });

chart.setOption({
  animation: false,
  grid: grids,
  xAxis: xAxes,
  yAxis: yAxes,
  series: series,
  graphic: graphics
});
</script>
</body>
</html>
